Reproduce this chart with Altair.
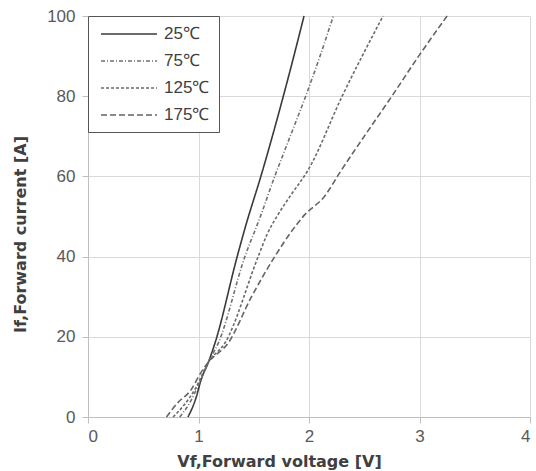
import altair as alt
import pandas as pd

temps = ["25℃", "75℃", "125℃", "175℃"]

v25 = [0.905, 0.98, 1.02, 1.09, 1.15, 1.35, 1.42, 1.575, 1.83, 1.955]
i25 = [0, 5, 9, 13.7, 18.5, 40, 47, 61, 86.5, 100]

v75 = [0.83, 0.92, 1.0, 1.09, 1.18, 1.42, 1.56, 1.69, 1.83, 1.97, 2.10, 2.22]
i75 = [0, 3.5, 8, 13.7, 18.5, 40, 50, 60, 70, 80, 90, 100]

v125 = [0.77, 0.87, 0.97, 1.09, 1.24, 1.54, 1.62, 1.72, 1.84, 1.99, 2.30, 2.67]
i125 = [0, 3, 7, 13.7, 18.5, 40, 45.5, 50.5, 55.5, 61.5, 80, 100]

v175 = [0.71, 0.81, 0.93, 1.02, 1.09, 1.27, 1.48, 1.69, 1.85, 1.96, 2.14, 2.28, 2.52, 2.75, 3.0, 3.25]
i175 = [0, 3.5, 6.7, 11, 13.7, 18.5, 30, 40, 46.6, 50.4, 55, 61, 70.8, 80, 90.3, 100]

series = [(temps[0], v25, i25), (temps[1], v75, i75), (temps[2], v125, i125), (temps[3], v175, i175)]
rows = []
for name, vs, cs in series:
    for k, (v, c) in enumerate(zip(vs, cs)):
        rows.append({"T": name, "Vf": v, "If": c, "k": k})
df = pd.DataFrame(rows)

dash_range = [[1, 0], [4, 2, 1, 2], [3, 2], [6, 3]]
color_range = ["#3a3a3a", "#707070", "#6a6a6a", "#646464"]

chart = alt.Chart(df).mark_line(strokeWidth=1.6, interpolate="monotone").encode(
    x=alt.X("Vf:Q", scale=alt.Scale(domain=[0, 4], nice=False),
            axis=alt.Axis(title="Vf,Forward voltage [V]", values=[0, 1, 2, 3, 4], titleX=191)),
    y=alt.Y("If:Q", scale=alt.Scale(domain=[0, 100], nice=False),
            axis=alt.Axis(title="If,Forward current [A]", values=[0, 20, 40, 60, 80, 100], titleY=218)),
    strokeDash=alt.StrokeDash("T:N", sort=temps,
                              scale=alt.Scale(domain=temps, range=dash_range),
                              legend=alt.Legend(title=None)),
    color=alt.Color("T:N", sort=temps,
                    scale=alt.Scale(domain=temps, range=color_range),
                    legend=alt.Legend(title=None)),
    order="k:Q",
).properties(
    width=442, height=401,
    autosize=alt.AutoSizeParams(type="none"),
    padding={"left": 88, "top": 16, "right": 6, "bottom": 54},
).configure_view(
    strokeWidth=0
).configure_axis(
    gridColor="#d9d9d9", gridWidth=1,
    domainColor="#bfbfbf", tickColor="#bfbfbf", tickSize=6,
    labelFont="Liberation Sans", labelFontSize=17, labelColor="#595959",
    labelOverlap=False,
    titleFont="DejaVu Sans", titleFontSize=16, titleFontWeight="bold", titleColor="#404040",
).configure_axisX(
    labelPadding=5, titlePadding=9,
).configure_axisY(
    labelPadding=7, titlePadding=18,
).configure_legend(
    orient="none", legendX=0, legendY=0,
    strokeColor="#555555", fillColor="white", padding=9,
    symbolType="M-0.625,0H6.375", symbolSize=256, symbolStrokeWidth=1.6,
    labelOffset=49, rowPadding=10,
    labelFont="Liberation Sans", labelFontSize=17, labelColor="#404040",
)

chart.save("out.html", embed_options={"renderer": "svg", "actions": False})
